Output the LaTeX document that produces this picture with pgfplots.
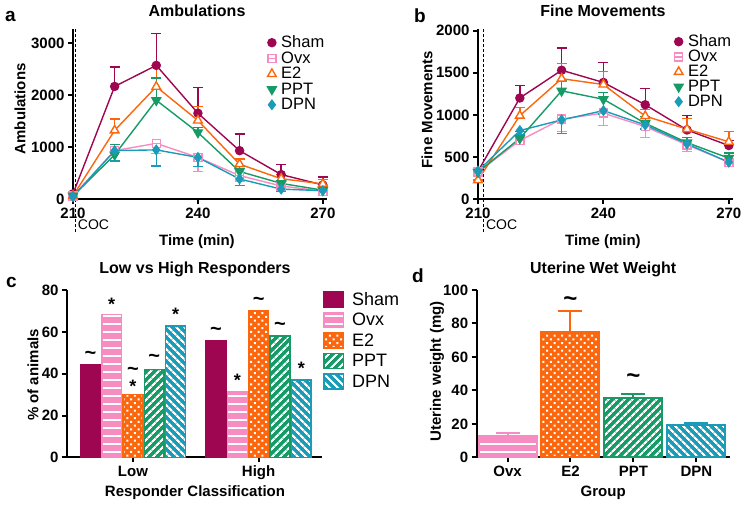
\documentclass[border=0pt]{standalone}
\usepackage{pgfplots}
\pgfplotsset{compat=1.18}
\usepackage{fontspec}
\setmainfont{Liberation Sans}
\usetikzlibrary{patterns.meta}
\newcommand{\fs}[1]{\fontsize{#1}{#1}\selectfont}
\definecolor{csham}{RGB}{158,6,82}
\definecolor{covx}{RGB}{246,140,194}
\definecolor{ce2}{RGB}{252,102,12}
\definecolor{cppt}{RGB}{22,155,102}
\definecolor{cdpn}{RGB}{26,156,184}
\pgfdeclareplotmark{sqminus}{%
  \pgfpathrectangle{\pgfqpoint{-\pgfplotmarksize}{-\pgfplotmarksize}}{\pgfqpoint{2\pgfplotmarksize}{2\pgfplotmarksize}}%
  \pgfusepathqfillstroke
  \pgfpathmoveto{\pgfqpoint{-\pgfplotmarksize}{0pt}}%
  \pgfpathlineto{\pgfqpoint{\pgfplotmarksize}{0pt}}%
  \pgfusepathqstroke}
\tikzset{
  tld/.style={font=\bfseries\fs{20}, anchor=base, inner sep=0pt, yshift=-6.7pt},
  tldD/.style={font=\bfseries\fs{24}, anchor=base, inner sep=0pt, yshift=-8pt},
  str/.style={font=\bfseries\fs{18}, anchor=base, inner sep=0pt, yshift=-10.3pt},
}
\pgfplotsset{
  panel/.style={
    scale only axis,
    axis lines=left,
    axis line style={-, line width=2pt, black},
    tick align=outside,
    major tick length=5pt,
    tick style={line width=2pt, black},
    tick label style={font=\bfseries\fs{15}},
    /pgf/number format/assume math mode=true,
    /pgf/number format/set thousands separator={},
    label style={font=\bfseries\fs{15}},
    title style={font=\bfseries\fs{16}},
    clip=false,
  },
  lineleg/.style={legend cell align=left,
    legend style={draw=none, fill=none, inner sep=0pt, outer sep=0pt, font=\fs{16.5}, row sep=2.5pt, column sep=5pt, nodes={inner sep=0pt}},
    legend image code/.code={\draw[##1, only marks] plot coordinates {(4.5pt,0pt)};}},
  barleg/.style={legend cell align=left,
    legend style={draw=none, fill=none, inner sep=0pt, outer sep=0pt, font=\fs{18}, row sep=4pt, column sep=8pt, nodes={inner sep=0pt}},
    legend image code/.code={\draw[##1] (0pt,-7.5pt) rectangle (19.5pt,7.5pt);}},
  shamL/.style={color=csham, line width=1.4pt, mark=*, mark size=4pt},
  ovxL/.style={color=covx, line width=1.4pt, mark=sqminus, mark size=4pt, mark options={fill=white}},
  e2L/.style={color=ce2, line width=1.4pt, mark=triangle*, mark size=5pt, mark options={fill=white}},
  pptL/.style={color=cppt, line width=1.4pt, mark=triangle*, mark size=5pt, mark options={rotate=180}},
  dpnL/.style={color=cdpn, line width=1.4pt, mark=diamond*, mark size=4.5pt},
  errP/.style={/pgfplots/error bars/y dir=plus, /pgfplots/error bars/y explicit,
    /pgfplots/error bars/error bar style={line width=1.4pt},
    /pgfplots/error bars/error mark options={rotate=90, mark size=5pt, line width=1.4pt}},
  errM/.style={/pgfplots/error bars/y dir=minus, /pgfplots/error bars/y explicit,
    /pgfplots/error bars/error bar style={line width=1.4pt},
    /pgfplots/error bars/error mark options={rotate=90, mark size=5pt, line width=1.4pt}},
  errD/.style={/pgfplots/error bars/y dir=plus, /pgfplots/error bars/y explicit,
    /pgfplots/error bars/error bar style={line width=2pt, color=#1},
    /pgfplots/error bars/error mark options={rotate=90, mark size=12pt, line width=2pt, color=#1}},
  shamB/.style={fill=csham, draw=csham, line width=1.5pt},
  ovxB/.style={preaction={fill=covx}, pattern={Lines[angle=0,distance=8pt,line width=2.7pt]}, pattern color=white, draw=covx, line width=1.5pt},
  e2B/.style={preaction={fill=ce2}, pattern={Dots[angle=45,distance=5.3pt,radius=1.4pt]}, pattern color=white, draw=ce2, line width=1.5pt},
  pptB/.style={preaction={fill=cppt}, pattern={Lines[angle=45,distance=5.4pt,line width=2.2pt]}, pattern color=white, draw=cppt, line width=1.5pt},
  dpnB/.style={preaction={fill=cdpn}, pattern={Lines[angle=-45,distance=5.4pt,line width=2.2pt]}, pattern color=white, draw=cdpn, line width=1.5pt},
}
\begin{document}
\begin{tikzpicture}
\useasboundingbox (0,0) rectangle (749pt,-508pt);
\node[anchor=base west, inner sep=0pt, font=\bfseries\fs{19}] at (5pt,-22pt) {a};
\node[anchor=base west, inner sep=0pt, font=\bfseries\fs{19}] at (414pt,-23pt) {b};
\node[anchor=base west, inner sep=0pt, font=\bfseries\fs{19}] at (6pt,-287pt) {c};
\node[anchor=base west, inner sep=0pt, font=\bfseries\fs{19}] at (412pt,-282pt) {d};

% ---------- panel a ----------
\begin{axis}[panel,
  at={(73pt,-199pt)}, anchor=south west, width=254pt, height=170pt,
  axis line style={line width=2.5pt},
  xmin=210, xmax=271, ymin=0, ymax=3270,
  xtick={210,240,270}, ytick={0,1000,2000,3000},
  title={Ambulations}, title style={at={(axis description cs:0.488,1.07)}, anchor=center},
  xlabel={Time (min)}, xlabel style={at={(axis description cs:0.488,-0.253)}, anchor=center},
  ylabel={Ambulations}, ylabel style={at={(axis description cs:-0.209,0.53)}, anchor=center},
  lineleg,
  legend style={at={(axis description cs:0.766,0.959)}, anchor=north west},
]
\draw[black, line width=1pt, dash pattern=on 3pt off 2pt] (axis cs:210.65,3270) -- ([yshift=-33pt]axis cs:210.65,0);
\node[anchor=west, inner sep=0pt, font=\fs{14}] at ([xshift=2pt,yshift=-26pt]axis cs:210.65,0) {COC};
\addplot[shamL, errP] coordinates {(210,100) +- (0,0) (220,2165) +- (0,375) (230,2570) +- (0,610) (240,1650) +- (0,490) (250,930) +- (0,320) (260,470) +- (0,190) (270,270) +- (0,150)};
\addlegendentry{Sham}
\addplot[ovxL, errM] coordinates {(210,60) +- (0,0) (220,930) +- (0,200) (230,1070) +- (0,200) (240,800) +- (0,270) (250,450) +- (0,100) (260,250) +- (0,60) (270,150) +- (0,50)};
\addlegendentry{Ovx}
\addplot[e2L, errP] coordinates {(210,60) +- (0,0) (220,1320) +- (0,220) (230,2160) +- (0,410) (240,1510) +- (0,270) (250,670) +- (0,100) (260,390) +- (0,80) (270,290) +- (0,80)};
\addlegendentry{E2}
\addplot[pptL, errP] coordinates {(210,60) +- (0,0) (220,850) +- (0,200) (230,1900) +- (0,430) (240,1280) +- (0,100) (250,530) +- (0,100) (260,300) +- (0,50) (270,170) +- (0,50)};
\addlegendentry{PPT}
\addplot[dpnL, errM] coordinates {(210,45) +- (0,0) (220,930) +- (0,200) (230,945) +- (0,310) (240,800) +- (0,175) (250,385) +- (0,130) (260,190) +- (0,50) (270,160) +- (0,40)};
\addlegendentry{DPN}
\end{axis}

% ---------- panel b ----------
\begin{axis}[panel,
  at={(478pt,-199pt)}, anchor=south west, width=255pt, height=170pt,
  axis line style={line width=2.5pt},
  xmin=210, xmax=271, ymin=0, ymax=2020,
  xtick={210,240,270}, ytick={0,500,1000,1500,2000},
  title={Fine Movements}, title style={at={(axis description cs:0.49,1.07)}, anchor=center},
  xlabel={Time (min)}, xlabel style={at={(axis description cs:0.49,-0.253)}, anchor=center},
  ylabel={Fine Movements}, ylabel style={at={(axis description cs:-0.2,0.526)}, anchor=center},
  lineleg,
  legend style={at={(axis description cs:0.77,0.965)}, anchor=north west, row sep=2pt},
]
\draw[black, line width=1pt, dash pattern=on 3pt off 2pt] (axis cs:211.4,2020) -- ([yshift=-33pt]axis cs:211.4,0);
\node[anchor=west, inner sep=0pt, font=\fs{14}] at ([xshift=2pt,yshift=-26pt]axis cs:211.4,0) {COC};
\addplot[shamL, errP] coordinates {(210,330) +- (0,0) (220,1200) +- (0,150) (230,1530) +- (0,265) (240,1385) +- (0,240) (250,1120) +- (0,190) (260,820) +- (0,170) (270,635) +- (0,60)};
\addlegendentry{Sham}
\addplot[ovxL, errM] coordinates {(210,320) +- (0,0) (220,695) +- (0,50) (230,950) +- (0,150) (240,1020) +- (0,150) (250,860) +- (0,130) (260,643) +- (0,80) (270,437) +- (0,50)};
\addlegendentry{Ovx}
\addplot[e2L, errP] coordinates {(210,225) +- (0,0) (220,990) +- (0,100) (230,1430) +- (0,180) (240,1360) +- (0,155) (250,985) +- (0,80) (260,830) +- (0,130) (270,680) +- (0,120)};
\addlegendentry{E2}
\addplot[pptL, errP] coordinates {(210,320) +- (0,0) (220,720) +- (0,80) (230,1285) +- (0,120) (240,1185) +- (0,80) (250,900) +- (0,80) (260,670) +- (0,60) (270,485) +- (0,60)};
\addlegendentry{PPT}
\addplot[dpnL, errM] coordinates {(210,333) +- (0,0) (220,813) +- (0,50) (230,940) +- (0,160) (240,1050) +- (0,40) (250,880) +- (0,50) (260,655) +- (0,50) (270,437) +- (0,50)};
\addlegendentry{DPN}
\end{axis}

% ---------- panel c ----------
\begin{axis}[panel,
  at={(67pt,-457.3pt)}, anchor=south west, width=255pt, height=167pt,
  ybar=1.5pt, bar width=19.8pt,
  xmin=-0.525, xmax=1.504, ymin=0, ymax=80,
  xtick={0,1}, xticklabels={Low,High}, ytick={0,20,40,60,80},
  title={Low vs High Responders}, title style={at={(axis description cs:0.502,1.092)}, anchor=center},
  xlabel={Responder Classification}, xlabel style={at={(axis description cs:0.502,-0.212)}, anchor=center},
  ylabel={\% of animals}, ylabel style={at={(axis description cs:-0.133,0.493)}, anchor=center},
  barleg,
  legend style={at={(axis description cs:1.004,0.993)}, anchor=north west},
]
\addplot[shamB] coordinates {(0,44.4) (1,55.6)};
\addlegendentry{Sham}
\addplot[ovxB] coordinates {(0,68.4) (1,31.6)};
\addlegendentry{Ovx}
\addplot[e2B] coordinates {(0,30) (1,70)};
\addlegendentry{E2}
\addplot[pptB] coordinates {(0,42) (1,58)};
\addlegendentry{PPT}
\addplot[dpnB] coordinates {(0,63) (1,37)};
\addlegendentry{DPN}
\node[tld] at (axis cs:-0.339,50) {\textasciitilde};
\node[str] at (axis cs:-0.1695,75.4) {*};
\node[tld] at (axis cs:0,42.2) {\textasciitilde};
\node[str] at (axis cs:0,35.9) {*};
\node[tld] at (axis cs:0.1695,48.5) {\textasciitilde};
\node[str] at (axis cs:0.339,70.6) {*};
\node[tld] at (axis cs:0.661,61.8) {\textasciitilde};
\node[str] at (axis cs:0.8305,39) {*};
\node[tld] at (axis cs:1,76) {\textasciitilde};
\node[tld] at (axis cs:1.1695,63.9) {\textasciitilde};
\node[str] at (axis cs:1.339,44.5) {*};
\end{axis}

% ---------- panel d ----------
\begin{axis}[panel,
  at={(476.7pt,-457.3pt)}, anchor=south west, width=253pt, height=167.3pt,
  ybar, bar width=58pt,
  xmin=-0.49, xmax=3.53, ymin=0, ymax=100,
  xtick={0,1,2,3}, xticklabels={Ovx,E2,PPT,DPN}, ytick={0,20,40,60,80,100},
  title={Uterine Wet Weight}, title style={at={(axis description cs:0.5,1.09)}, anchor=center},
  xlabel={Group}, xlabel style={at={(axis description cs:0.5,-0.213)}, anchor=center},
  ylabel={Uterine weight (mg)}, ylabel style={at={(axis description cs:-0.157,0.513)}, anchor=center},
]
\addplot[ovxB, line width=2pt, bar shift=0pt, errD=covx] coordinates {(0,12.5) +- (0,1.8)};
\addplot[e2B, line width=2pt, bar shift=0pt, errD=ce2] coordinates {(1,75) +- (0,12.5)};
\addplot[pptB, line width=2pt, bar shift=0pt, errD=cppt] coordinates {(2,35.3) +- (0,2.5)};
\addplot[dpnB, line width=2pt, bar shift=0pt, errD=cdpn] coordinates {(3,19.3) +- (0,1.4)};
\node[tldD] at (axis cs:1,95.2) {\textasciitilde};
\node[tldD] at (axis cs:2,48.6) {\textasciitilde};
\end{axis}
\end{tikzpicture}
\end{document}
